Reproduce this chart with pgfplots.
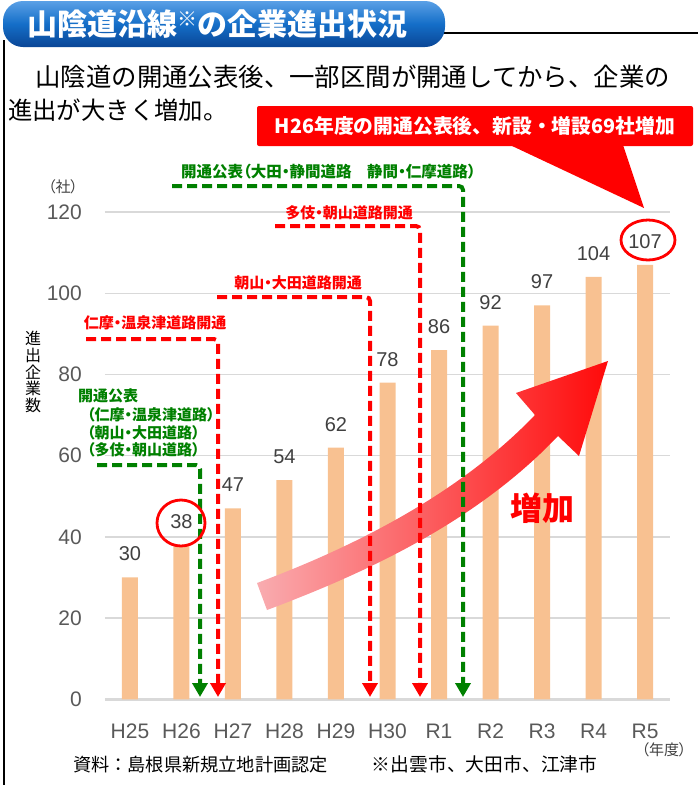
\documentclass[border=0pt]{standalone}
\usepackage{fontspec}
\usepackage{pgfplots}
\pgfplotsset{compat=1.18}
\usetikzlibrary{arrows.meta}
\setmainfont{Liberation Sans}
\newfontfamily\jp{Noto Sans CJK JP}
\newfontfamily\jpp{Noto Sans CJK JP}[RawFeature=+palt]
\definecolor{barc}{RGB}{248,193,145}
\definecolor{gridc}{RGB}{217,217,217}
\definecolor{tickc}{RGB}{89,89,89}
\definecolor{valc}{RGB}{64,64,64}
\definecolor{grn}{RGB}{0,128,0}
\definecolor{rd}{RGB}{255,0,0}
\definecolor{blueT}{RGB}{90,160,230}
\definecolor{blueM}{RGB}{20,110,200}
\definecolor{blueB}{RGB}{10,70,150}
\definecolor{arrL}{RGB}{249,172,176}
\definecolor{arrM}{RGB}{255,100,100}
\definecolor{arrR}{RGB}{255,10,10}
\newcommand{\fs}[1]{\fontsize{#1}{#1}\selectfont}
\begin{document}
\begin{tikzpicture}
\begin{scope}[x=1pt,y=-1pt]
\useasboundingbox (0,0) rectangle (698,785);
% frame
\draw[black, line width=2pt] (440,33) -- (698,33);
\draw[black, line width=2pt] (4,40) -- (4,785);
% header
\shade[top color=blueT, bottom color=blueB, middle color=blueM, rounded corners=20pt] (3,1) rectangle (445,47);
\node[anchor=west, text=white, inner sep=0pt] at (27,24) {\jp\bfseries\fs{30}山陰道沿線{\fs{20}\raisebox{9pt}{※}}の企業進出状況};
% intro text
\node[anchor=west, inner sep=0pt] at (10,77) {\jp\fs{25.4}　山陰道の開通公表後、一部区間が開通してから、企業の};
\node[anchor=west, inner sep=0pt] at (8,110) {\jp\fs{24.4}進出が大きく増加。};
% callout
\fill[rd] (510,145) -- (623,145) -- (644,208) -- cycle;
\fill[rd, rounded corners=2pt] (257,106) rectangle (693,146);
\node[text=white, inner sep=0pt] at (475,126) {\jp\bfseries\fs{19.8}H26年度の開通公表後、新設・増設69社増加};
% axis captions
\node[text=valc, inner sep=0pt] at (63,187) {\jpp\fs{15}（社）};
\node[inner sep=0pt, align=center, font=\jp\fontsize{16}{16.7}\selectfont] at (33,372) {進\\出\\企\\業\\数};
\node[text=valc, inner sep=0pt] at (664,750) {\jpp\fs{15}（年度）};
\node[anchor=west, inner sep=0pt] at (73,764) {\jp\fs{18.2}資料：島根県新規立地計画認定\hspace{44pt}\fs{18.8}※出雲市、大田市、江津市};
\end{scope}

\begin{axis}[
  at={(105pt,-699.3pt)}, anchor=south west,
  scale only axis, width=565pt, height=487.3pt,
  xmin=-0.485, xmax=10.485, ymin=0, ymax=120,
  ybar, bar width=16pt,
  ytick={0,20,...,120},
  xtick={0,...,10},
  xticklabels={H25,H26,H27,H28,H29,H30,R1,R2,R3,R4,R5},
  ymajorgrids, grid style={draw=gridc, line width=1.3pt},
  axis line style={draw=none}, tick style={draw=none},
  /pgf/number format/assume math mode=true,
  yticklabel style={font=\fs{21}, text=tickc, anchor=east, inner sep=0pt, xshift=-23pt},
  xticklabel style={font=\fs{21}, text=tickc, anchor=north, inner sep=0pt, yshift=-20pt},
  nodes near coords,
  every node near coord/.append style={font=\fs{20}, text=valc, anchor=base, inner sep=0pt, yshift=16.5pt},
  clip=false,
]
\draw[gridc, line width=2.5pt] (axis cs:-0.485,0) -- (axis cs:10.485,0);
\addplot[fill=barc, draw=none] coordinates {
(0,30) (1,38) (2,47) (3,54) (4,62) (5,78) (6,86) (7,92) (8,97) (9,104) (10,107)};
\end{axis}

\begin{scope}[x=1pt,y=-1pt]
% big curved arrow
\shade[left color=arrL, middle color=arrM, right color=arrR]
 (257,583) .. controls (367,542) and (465,488) .. (535,415) -- (516,393) -- (608,361) -- (579,456) -- (558,436) .. controls (483,515) and (382,567) .. (267,610) -- cycle;
\node[text=rd, inner sep=0pt] at (542,508) {\jp\bfseries\fs{32}増加};
% dashed annotation lines
\tikzset{ann/.style={line width=4pt, dash pattern=on 10pt off 5pt, rounded corners=4pt, -{Triangle[length=14pt,width=15pt]}}}
\draw[ann, grn] (172,186) -- (463,186) -- (463,697);
\draw[ann, rd] (275,226) -- (420,226) -- (420,697);
\draw[ann, rd] (217,297) -- (370,297) -- (370,697);
\draw[ann, rd] (86,339) -- (218,339) -- (218,697);
\draw[ann, grn] (97,465) -- (200,465) -- (200,697);
% labels
\node[anchor=west, text=grn, inner sep=0pt] at (181,172) {\jpp\bfseries\fs{15.5}開通公表（大田・静間道路　静間・仁摩道路）};
\node[text=rd, inner sep=0pt] at (349,213) {\jpp\bfseries\fs{15}多伎・朝山道路開通};
\node[text=rd, inner sep=0pt] at (298,283) {\jpp\bfseries\fs{15}朝山・大田道路開通};
\node[text=rd, inner sep=0pt] at (155,323) {\jpp\bfseries\fs{15}仁摩・温泉津道路開通};
\node[anchor=west, text=grn, inner sep=0pt] at (78,396) {\jpp\bfseries\fs{15}開通公表};
\node[anchor=west, text=grn, inner sep=0pt] at (87,415) {\jpp\bfseries\fs{15}（仁摩・温泉津道路）};
\node[anchor=west, text=grn, inner sep=0pt] at (87,433) {\jpp\bfseries\fs{15}（朝山・大田道路）};
\node[anchor=west, text=grn, inner sep=0pt] at (87,450) {\jpp\bfseries\fs{15}（多伎・朝山道路）};
% circles
\draw[rd, line width=2.8pt] (648,240) ellipse (27 and 20);
\draw[rd, line width=2.8pt] (181,523) ellipse (24 and 23);
\end{scope}
\end{tikzpicture}
\end{document}
